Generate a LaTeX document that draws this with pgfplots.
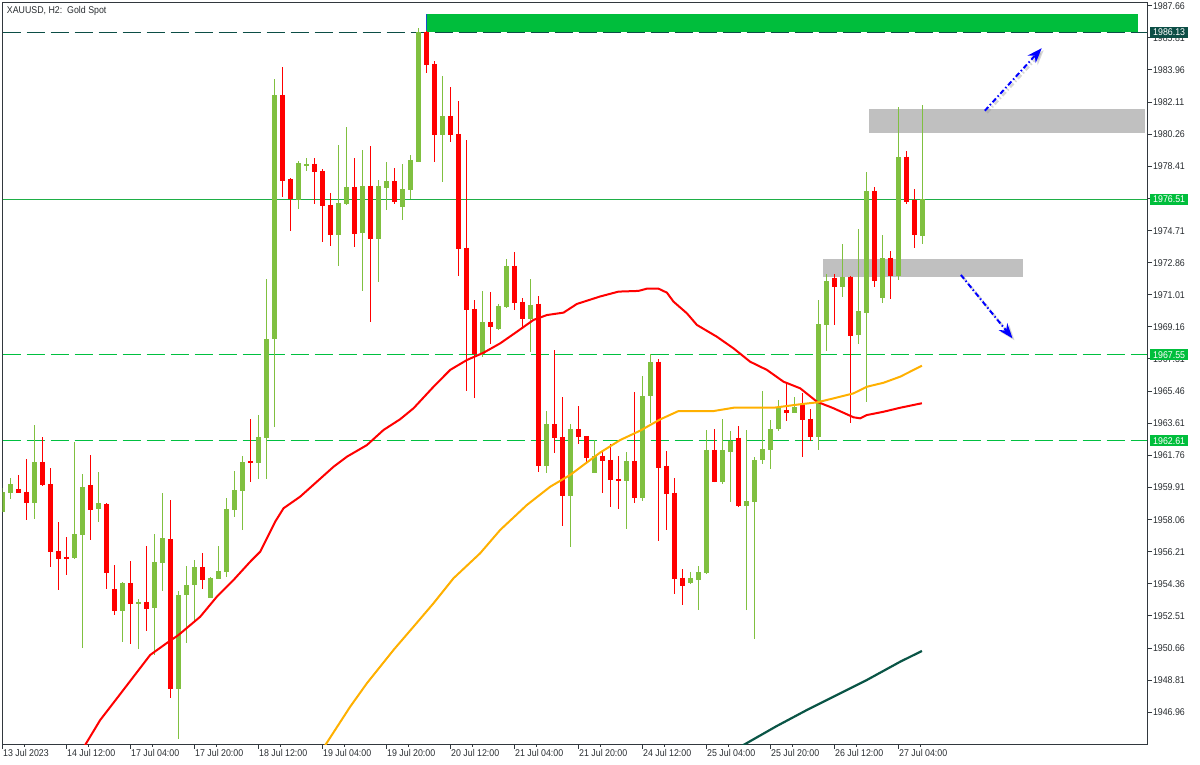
\documentclass[border=0pt]{standalone}
\usepackage{fontspec}
\setmainfont{Liberation Sans}[FakeStretch=0.9]
\usepackage{pgfplots}
\usepackage{pgfplotstable}
\pgfplotsset{compat=1.18}
\usetikzlibrary{arrows.meta}
\definecolor{cg}{RGB}{128,192,64}
\definecolor{cr}{RGB}{255,0,0}
\definecolor{rectg}{RGB}{0,190,60}
\definecolor{lineg}{RGB}{0,192,64}
\definecolor{solidg}{RGB}{30,175,70}
\definecolor{tealc}{RGB}{12,78,70}
\definecolor{madg}{RGB}{10,85,70}
\definecolor{orangec}{RGB}{255,176,0}
\definecolor{grayc}{RGB}{192,192,192}
\definecolor{txtcol}{RGB}{40,44,48}
\definecolor{framecol}{RGB}{50,56,62}
\definecolor{bluec}{RGB}{0,0,255}
\definecolor{edgeb}{RGB}{20,80,200}
\newcommand\lbl{\fontsize{9.8bp}{11bp}\selectfont}

\pgfplotstableread{
i O H L C
0 1958.52 1959.88 1958.50 1959.67
1 1959.61 1960.46 1959.25 1960.11
4 1959.03 1963.51 1958.11 1961.38
9 1955.87 1962.55 1955.80 1957.23
10 1957.19 1960.69 1950.65 1959.94
12 1958.69 1960.80 1957.94 1959.02
15 1952.81 1954.47 1951.03 1954.41
17 1953.22 1953.50 1950.62 1953.33
19 1952.99 1957.25 1950.28 1955.62
20 1955.58 1959.59 1953.97 1957.00
22 1948.32 1953.95 1945.44 1953.72
23 1953.72 1955.39 1950.97 1954.29
24 1954.29 1955.73 1952.16 1955.33
26 1953.56 1954.76 1953.56 1954.70
27 1954.64 1956.56 1954.64 1955.10
28 1955.04 1959.31 1954.75 1958.67
29 1958.61 1960.86 1958.21 1959.77
30 1959.71 1961.72 1957.46 1961.38
32 1961.32 1964.09 1960.40 1962.82
33 1962.78 1971.92 1960.40 1968.46
34 1968.46 1983.44 1963.39 1982.52
37 1976.45 1978.72 1975.97 1978.60
38 1978.45 1978.91 1978.16 1978.56
42 1974.47 1979.66 1972.69 1976.30
43 1976.24 1980.69 1976.18 1977.24
45 1974.59 1979.37 1971.25 1977.29
47 1974.24 1977.64 1971.76 1977.29
48 1977.18 1978.66 1975.91 1977.56
50 1976.08 1978.56 1975.34 1977.10
51 1977.06 1979.08 1976.51 1978.77
52 1978.68 1986.35 1978.68 1986.13
55 1980.23 1983.63 1977.52 1981.31
60 1967.60 1971.25 1967.43 1969.46
62 1969.04 1970.50 1968.98 1970.38
63 1970.32 1973.09 1970.27 1972.69
66 1969.63 1971.94 1967.73 1970.44
68 1961.15 1964.32 1960.75 1963.57
71 1959.42 1963.58 1956.50 1963.28
74 1960.75 1962.63 1960.75 1961.72
78 1960.30 1961.97 1957.54 1961.45
80 1959.32 1966.35 1959.15 1965.20
81 1965.20 1967.60 1963.61 1967.16
86 1954.43 1955.06 1954.37 1954.71
87 1954.60 1955.41 1952.87 1955.06
88 1955.00 1963.24 1954.95 1962.09
90 1960.21 1963.87 1960.13 1962.09
91 1961.97 1963.18 1959.09 1962.60
93 1958.86 1963.24 1952.84 1959.15
94 1959.09 1961.68 1951.20 1961.51
95 1961.51 1965.49 1961.28 1962.14
96 1962.09 1963.82 1960.99 1963.30
97 1963.30 1964.97 1963.18 1964.51
99 1964.22 1965.14 1964.20 1964.56
102 1962.84 1970.71 1962.09 1969.35
103 1969.29 1972.22 1967.79 1971.82
105 1971.48 1973.95 1970.90 1972.05
107 1968.71 1974.82 1968.19 1970.09
108 1969.98 1978.10 1964.85 1977.01
110 1970.84 1974.47 1970.55 1973.15
112 1972.11 1981.84 1971.88 1978.96
115 1974.41 1981.96 1973.95 1976.51
}\greentab

\pgfplotstableread{
i O H L C
2 1959.82 1960.63 1959.61 1959.61
3 1959.65 1961.55 1958.04 1959.03
5 1961.38 1962.82 1960.00 1960.05
6 1960.11 1961.03 1955.35 1956.21
7 1956.25 1957.92 1954.02 1955.81
8 1955.92 1957.06 1954.89 1955.81
11 1960.05 1961.78 1956.90 1958.63
13 1958.96 1959.02 1954.08 1955.00
14 1954.06 1955.45 1952.58 1952.81
16 1954.41 1955.68 1950.91 1953.22
18 1953.32 1956.56 1951.66 1952.93
21 1956.94 1959.21 1947.80 1948.32
25 1955.33 1956.14 1954.08 1954.58
31 1961.44 1963.86 1960.23 1961.32
35 1982.52 1984.13 1976.66 1977.58
36 1977.68 1977.74 1974.70 1976.51
39 1978.56 1978.91 1976.26 1978.10
40 1978.14 1978.26 1974.07 1976.14
41 1976.18 1976.89 1973.84 1974.47
44 1977.22 1978.91 1973.78 1974.53
46 1977.29 1979.60 1969.46 1974.24
49 1977.56 1978.33 1976.26 1976.37
53 1986.13 1986.20 1983.80 1984.26
54 1984.30 1984.48 1978.68 1980.23
56 1981.31 1982.98 1979.83 1980.23
57 1980.27 1982.19 1972.11 1973.66
58 1973.72 1979.94 1965.49 1970.15
59 1970.19 1970.73 1965.05 1967.60
61 1969.46 1971.19 1968.18 1969.17
64 1972.69 1973.49 1970.15 1970.55
65 1970.61 1970.84 1969.11 1969.63
67 1970.50 1970.96 1960.82 1961.15
69 1963.57 1967.83 1961.91 1962.78
70 1962.82 1965.14 1957.69 1959.42
72 1963.28 1964.62 1962.43 1962.84
73 1962.88 1962.90 1961.34 1961.63
75 1961.74 1961.97 1959.61 1961.45
76 1961.51 1962.43 1958.80 1960.36
77 1960.40 1961.74 1958.69 1960.30
79 1961.45 1965.43 1959.03 1959.32
82 1967.16 1967.33 1956.85 1961.05
83 1961.17 1962.03 1957.48 1959.55
84 1959.61 1960.47 1953.79 1954.66
85 1954.71 1955.23 1953.16 1954.25
89 1962.09 1963.30 1960.20 1960.24
92 1962.78 1963.47 1958.80 1958.86
98 1964.39 1965.95 1963.76 1964.22
100 1964.68 1965.37 1961.68 1963.81
101 1963.87 1964.45 1962.60 1962.84
104 1971.99 1972.22 1969.29 1971.48
106 1972.05 1972.10 1963.64 1968.65
109 1977.01 1977.22 1971.48 1971.82
111 1973.15 1973.55 1970.78 1972.11
113 1978.96 1979.31 1976.26 1976.37
114 1976.49 1977.12 1973.72 1974.47
}\redtab

\begin{document}
\begin{tikzpicture}[x=1bp,y=1bp]
\path[use as bounding box] (0bp,0bp) rectangle (1200bp,765bp);
\begin{axis}[
  at={(2.5bp,762.5bp)}, anchor=north west,
  scale only axis, width=1144.8bp, height=741.8bp,
  xmin=0, xmax=143.1, ymin=1945.114, ymax=1987.844,
  clip mode=individual,
  axis line style={framecol, line width=1.1bp},
  tick align=outside,
  xtick pos=left, ytick pos=right, yticklabel pos=right,
  major tick length=4.5bp,
  tick style={framecol, line width=1bp},
  ytick={1946.96,1948.81,1950.66,1952.51,1954.36,1956.21,1958.06,1959.91,1961.76,1963.61,1965.46,1967.31,1969.16,1971.01,1972.86,1974.71,1976.56,1978.41,1980.26,1982.11,1983.96,1985.81,1987.66},
  yticklabels={1946.96,1948.81,1950.66,1952.51,1954.36,1956.21,1958.06,1959.91,1961.76,1963.61,1965.46,1967.31,1969.16,1971.01,1972.86,1974.71,1976.56,1978.41,1980.26,1982.11,1983.96,1985.81,1987.66},
  xtick={0,8,16,24,32,40,48,56,64,72,80,88,96,104,112},
  xticklabels={13 Jul 2023,14 Jul 12:00,17 Jul 04:00,17 Jul 20:00,18 Jul 12:00,19 Jul 04:00,19 Jul 20:00,20 Jul 12:00,21 Jul 04:00,21 Jul 20:00,24 Jul 12:00,25 Jul 04:00,25 Jul 20:00,26 Jul 12:00,27 Jul 04:00},
  yticklabel style={font=\lbl, text=txtcol, inner sep=0pt, anchor=west, text height=7bp, text depth=0pt, xshift=1bp},
  xticklabel style={font=\lbl, text=txtcol, inner sep=0pt, anchor=north west, text height=7bp, text depth=0pt, xshift=0.5bp, yshift=-1bp},
  extra x ticks={2.75,10.75,18.75,26.75,34.75,42.75,50.75,58.75,66.75,74.75,82.75,90.75,98.75,106.75,114.75},
  extra x tick labels={},
  extra x tick style={major tick length=2.5bp},
]
% zones
\fill[rectg] (axis cs:53,1986.13) rectangle (axis cs:141.9,1987.18);
\draw[edgeb, line width=1bp] (axis cs:53,1986.13) -- (axis cs:53,1987.18);
\fill[grayc] (axis cs:108.3,1980.33) rectangle (axis cs:142.8,1981.71);
\fill[grayc] (axis cs:102.6,1972.05) rectangle (axis cs:127.5,1973.07);
% horizontal levels
\draw[tealc, line width=1.1bp, dash pattern=on 18.7bp off 5.3bp] (axis cs:0,1986.13) -- (axis cs:143.1,1986.13);
\draw[solidg, line width=1bp] (axis cs:0,1976.51) -- (axis cs:143.1,1976.51);
\draw[lineg, line width=1.1bp, dash pattern=on 18.7bp off 5.3bp] (axis cs:0,1967.55) -- (axis cs:143.1,1967.55);
\draw[lineg, line width=1.1bp, dash pattern=on 18.7bp off 5.3bp] (axis cs:0,1962.61) -- (axis cs:143.1,1962.61);
% candles: wicks
\addplot[cg, line width=1bp, -, quiver={u=0, v=\thisrow{H}-\thisrow{L}}] table[x=i, y=L] {\greentab};
\addplot[cr, line width=1bp, -, quiver={u=0, v=\thisrow{H}-\thisrow{L}}] table[x=i, y=L] {\redtab};
% candles: bodies
\addplot[cg, line width=5bp, -, quiver={u=0, v=\thisrow{C}-\thisrow{O}}] table[x=i, y=O] {\greentab};
\addplot[cr, line width=5bp, -, quiver={u=0, v=\thisrow{C}-\thisrow{O}}] table[x=i, y=O] {\redtab};
% moving averages
\addplot[cr, line width=2bp] coordinates {(9.96,1944.79) (12.21,1946.51) (14.30,1947.76) (16.38,1949.01) (18.46,1950.26) (20.55,1950.95) (22.0,1951.41) (24.71,1952.46) (26.8,1953.62) (28.88,1954.58) (30.96,1955.63) (32.21,1956.21) (33.05,1956.98) (34.09,1957.94) (35.13,1958.71) (37.21,1959.38) (41.38,1961.10) (43.05,1961.68) (45.55,1962.35) (47.63,1963.22) (49.71,1963.84) (51.38,1964.47) (53.88,1965.71) (55.96,1966.68) (58.05,1967.25) (60.13,1967.67) (62.21,1968.21) (64.3,1968.88) (66.38,1969.56) (68.05,1969.84) (70.13,1969.98) (71.8,1970.48) (74.71,1970.91) (77.0,1971.19) (79.5,1971.23) (80.55,1971.36) (82.0,1971.36) (83.05,1971.13) (83.88,1970.61) (85.55,1969.94) (86.8,1969.27) (89.3,1968.59) (91.38,1967.92) (93.46,1967.15) (95.55,1966.68) (97.63,1966.00) (99.71,1965.62) (101.8,1964.85) (103.88,1964.47) (106.38,1963.95) (107.21,1963.89) (108.05,1964.08) (110.13,1964.27) (112.21,1964.50) (114.93,1964.76)};
\addplot[orangec, line width=2bp] coordinates {(39.96,1944.79) (43.46,1947.28) (45.55,1948.63) (48.88,1950.55) (51.38,1951.89) (53.88,1953.24) (56.38,1954.68) (59.71,1956.12) (62.21,1957.46) (65.55,1958.90) (68.46,1959.95) (70.96,1960.63) (74.71,1961.92) (77.21,1962.64) (79.71,1963.18) (82.21,1963.83) (84.5,1964.31) (88.88,1964.31) (91.38,1964.50) (96.38,1964.50) (99.71,1964.70) (101.8,1964.81) (103.88,1965.04) (106.38,1965.33) (108.05,1965.71) (110.13,1965.94) (112.21,1966.29) (114.93,1966.92)};
\addplot[madg, line width=2.2bp] coordinates {(91.96,1944.90) (96.8,1946.17) (100.55,1947.09) (103.88,1947.86) (108.05,1948.82) (112.21,1949.87) (114.93,1950.49)};
% arrows
\draw[black!40, opacity=0.4, line width=2.5bp, dash pattern=on 5bp off 2.5bp on 1.5bp off 2.5bp, -{Stealth[length=15bp,width=11bp]}, transform canvas={shift={(2bp,-2bp)}}] (axis cs:122.8,1981.61) -- (axis cs:129.9,1985.21);
\draw[bluec, line width=2bp, dash pattern=on 5bp off 2.5bp on 1.5bp off 2.5bp, -{Stealth[length=15bp,width=11bp]}] (axis cs:122.8,1981.61) -- (axis cs:129.9,1985.21);
\draw[black!40, opacity=0.4, line width=2.5bp, dash pattern=on 5bp off 2.5bp on 1.5bp off 2.5bp, -{Stealth[length=15bp,width=11bp]}, transform canvas={shift={(2bp,-2bp)}}] (axis cs:119.8,1972.15) -- (axis cs:126.25,1968.50);
\draw[bluec, line width=2bp, dash pattern=on 5bp off 2.5bp on 1.5bp off 2.5bp, -{Stealth[length=15bp,width=11bp]}] (axis cs:119.8,1972.15) -- (axis cs:126.25,1968.50);
\coordinate (b1) at (axis cs:143.1,1986.13);
\coordinate (b2) at (axis cs:143.1,1976.51);
\coordinate (b3) at (axis cs:143.1,1967.55);
\coordinate (b4) at (axis cs:143.1,1962.61);
\end{axis}
\tikzset{lblbox/.style={anchor=west, xshift=2.7bp, font=\lbl, text=white, inner xsep=3bp, inner ysep=0pt, minimum height=11bp, text height=7bp, text depth=0pt}}
\node[lblbox, fill=tealc] at (b1) {1986.13};
\node[lblbox, fill=rectg] at (b2) {1976.51};
\node[lblbox, fill=rectg] at (b3) {1967.55};
\node[lblbox, fill=rectg] at (b4) {1962.61};
\node[anchor=base west, font=\lbl, text=txtcol, inner sep=0pt] at (6.7bp,751.7bp) {XAUUSD, H2:\ \ Gold Spot};
\end{tikzpicture}
\end{document}
